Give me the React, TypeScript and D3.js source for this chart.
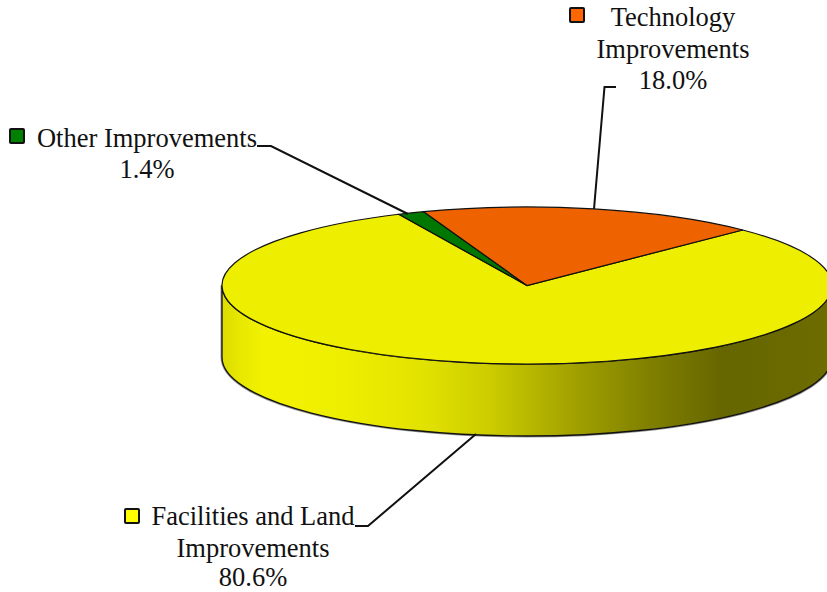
import React from "react";
import * as d3 from "d3";

const categories = ["Facilities and Land Improvements", "Other Improvements", "Technology Improvements"];
const values = [80.6, 1.4, 18.0];
const colors = ["#EEEE00", "#007700", "#EE6200"];
const swatchColors = ["#FFFF00", "#008000", "#FF6600"];
const percentLabels = ["80.6%", "1.4%", "18.0%"];
const gradientStops: [number, string][] = [
  [0, "#dcdc00"], [0.03, "#e8e800"], [0.07, "#f2f200"], [0.2, "#eeee00"], [0.33, "#e2e200"],
  [0.44, "#cccc00"], [0.58, "#a0a000"], [0.7, "#808000"], [0.82, "#666600"], [1, "#6c6c00"],
];

const W = 827, H = 592;
const cx = 527, cy = 285.5, rx = 305, ry = 78.5, depth = 72;
const font = "'Liberation Serif', 'Times New Roman', serif";
const fs = 26.5;

const pie = d3.pie<number>().sort(null).startAngle(Math.PI / 4).endAngle(Math.PI / 4 + 2 * Math.PI);
const arc = d3.arc<d3.PieArcDatum<number>>().innerRadius(0).outerRadius(rx);

const sidePath =
  `M${cx - rx},${cy} A${rx},${ry} 0 0 0 ${cx + rx},${cy} L${cx + rx},${cy + depth} A${rx},${ry} 0 0 1 ${cx - rx},${cy + depth} Z`;

function Swatch({ x, y, fill }: { x: number; y: number; fill: string }) {
  return <rect x={x} y={y} width={14} height={14} rx={1} fill={fill} stroke="#111" strokeWidth={2} />;
}

function Label({ x, lines }: { x: number; lines: [string, number][] }) {
  return (
    <text fontFamily={font} fontSize={fs} fill="#111" textAnchor="middle">
      {lines.map(([t, y], i) => <tspan key={i} x={x} y={y}>{t}</tspan>)}
    </text>
  );
}

export default function App() {
  const arcs = pie(values);
  return (
    <svg width={W} height={H} viewBox={`0 0 ${W} ${H}`} style={{ position: "absolute", left: 0, top: 0, background: "#fff" }}>
      <defs>
        <linearGradient id="side" gradientUnits="userSpaceOnUse" x1={cx - rx} x2={cx + rx} y1={0} y2={0}>
          {gradientStops.map(([o, c], i) => <stop key={i} offset={o} stopColor={c} />)}
        </linearGradient>
      </defs>
      <path d={sidePath} fill="none" stroke="#999" strokeWidth={3} />
      <path d={sidePath} fill="url(#side)" stroke="#111" strokeWidth={1.3} />
      <g transform={`translate(${cx},${cy}) scale(1,${ry / rx})`}>
        {arcs.map((a, i) => (
          <path key={i} d={arc(a)!} fill={colors[i]} stroke="#111" strokeWidth={1.2} vectorEffect="non-scaling-stroke" />
        ))}
      </g>
      <polyline points="257,146 271,146 408,214" fill="none" stroke="#111" strokeWidth={2} />
      <polyline points="616,87 604.5,87 594,209" fill="none" stroke="#111" strokeWidth={2} />
      <polyline points="355,526 368,526 476,434" fill="none" stroke="#111" strokeWidth={2} />

      <Swatch x={10} y={129} fill={swatchColors[1]} />
      <Label x={147} lines={[["Other Improvements", 147], [percentLabels[1], 178]]} />
      <Swatch x={570} y={8} fill={swatchColors[2]} />
      <Label x={673} lines={[["Technology", 26], ["Improvements", 58], [percentLabels[2], 89]]} />
      <Swatch x={125} y={509} fill={swatchColors[0]} />
      <Label x={253} lines={[["Facilities and Land", 525], ["Improvements", 557], [percentLabels[0], 586]]} />
    </svg>
  );
}
